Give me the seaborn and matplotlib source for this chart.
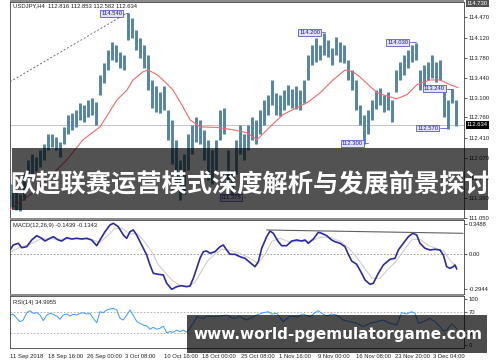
import numpy as np
import matplotlib
matplotlib.use("Agg")
import matplotlib.pyplot as plt
import seaborn as sns
from matplotlib.patches import Rectangle
import matplotlib.transforms as mtrans

sns.set_style("white")
plt.rcParams['font.family'] = ['Liberation Sans', 'DejaVu Sans']

# ---------------- data ----------------
bar_high = [111.62, 111.53, 111.45, 111.79, 112.04, 112.13, 112.08, 112.21, 112.30, 112.47,
            112.47, 112.42, 112.34, 112.59, 112.81, 112.84, 112.89, 113.01, 112.98, 113.06,
            113.10, 113.03, 113.49, 113.69, 113.91, 114.05, 114.00, 113.88, 113.83, 114.54,
            114.46, 114.25, 114.12, 114.00, 113.83, 113.40, 113.29, 113.20, 113.29, 112.89,
            112.72, 112.38, 112.04, 112.13, 112.47, 112.64, 112.77, 112.72, 112.55, 112.38,
            112.21, 112.38, 112.89, 112.93, 112.21, 111.87, 112.38, 112.64, 112.47, 112.64,
            112.76, 112.72, 112.89, 113.06, 113.15, 113.40, 113.18, 113.15, 113.23, 113.32,
            113.25, 113.30, 113.23, 113.40, 113.83, 114.00, 114.12, 114.00, 114.20, 114.08,
            113.94, 114.13, 114.05, 114.00, 113.74, 113.57, 113.40, 112.98, 112.81, 112.89,
            113.06, 113.23, 113.27, 113.15, 113.20, 113.06, 113.57, 113.71, 113.83, 113.91,
            114.00, 114.03, 113.57, 113.66, 113.71, 113.83, 113.71, 113.74, 113.32, 113.06,
            113.25, 113.06]
bar_low = [111.24, 111.19, 111.16, 111.36, 111.70, 111.79, 111.84, 111.92, 112.04, 112.21,
           112.25, 112.21, 112.08, 112.30, 112.47, 112.55, 112.59, 112.72, 112.69, 112.76,
           112.81, 112.64, 113.15, 113.35, 113.57, 113.74, 113.71, 113.61, 113.57, 114.08,
           114.12, 113.91, 113.78, 113.61, 113.23, 112.93, 112.86, 112.84, 112.89, 112.38,
           111.96, 111.62, 111.36, 111.45, 111.87, 112.13, 112.34, 112.30, 112.04, 111.70,
           111.62, 111.87, 112.38, 112.47, 111.45, 111.40, 111.79, 112.13, 112.04, 112.21,
           112.38, 112.30, 112.47, 112.64, 112.81, 112.98, 112.81, 112.78, 112.89, 112.98,
           112.93, 112.91, 112.89, 113.01, 113.40, 113.66, 113.71, 113.74, 113.83, 113.80,
           113.66, 113.83, 113.71, 113.69, 113.40, 113.23, 112.89, 112.64, 112.30, 112.47,
           112.72, 112.91, 112.98, 112.86, 112.89, 112.69, 113.20, 113.40, 113.49, 113.61,
           113.71, 113.74, 113.23, 113.32, 113.40, 113.44, 113.37, 113.40, 112.76, 112.57,
           113.01, 112.62]
bar_idx = np.arange(len(bar_high))

ma_x = [-0.5, 5.25, 9.5, 13.75, 17.75, 22, 26.25, 28.75, 30.25, 32.75, 34, 36.25, 37.75,
        40.25, 42.75, 44.5, 47, 51.25, 55.25, 58.75, 61.25, 64.5, 67.75, 73.75, 77, 80.25,
        83.25, 85.25, 87, 91.25, 94.5, 96.25, 98.75, 101.25, 104.5, 107, 109.5, 111.5]
ma_v = [111.19, 111.48, 111.75, 112.04, 112.38, 112.60, 113.06, 113.23, 113.40, 113.54,
        113.57, 113.49, 113.40, 113.23, 112.94, 112.72, 112.60, 112.59, 112.55, 112.50,
        112.38, 112.60, 112.81, 113.01, 113.18, 113.40, 113.57, 113.54, 113.45, 113.18,
        113.11, 113.08, 113.15, 113.32, 113.40, 113.40, 113.32, 113.27]

macd_x = [-0.5, 0.33, 1.58, 2.42, 3.67, 4.92, 6.17, 7.42, 8.25, 9.5,
          10.33, 11.58, 12.42, 13.67, 14.92, 16.17, 17.42, 18.67, 19.92, 21.17,
          22, 23.25, 24.5, 25.33, 26.58, 27.83, 28.67, 29.5, 30.33, 31.17,
          32, 32.83, 33.67, 34.5, 35.33, 36.58, 37.83, 38.67, 39.92, 41.17,
          42.42, 43.67, 44.5, 45.33, 46.17, 47, 47.83, 48.67, 49.5, 50.75,
          52, 52.83, 53.67, 54.5, 55.75, 57, 58.25, 59.5, 60.75, 61.58,
          62.42, 63.67, 64.5, 65.33, 66.58, 67.42, 68.67, 69.92, 71.17, 72.42,
          73.25, 74.08, 75.33, 76.58, 77.42, 78.67, 79.92, 80.75, 82, 83.25,
          84.08, 84.92, 86.17, 87.42, 88.25, 89.5, 90.33, 91.58, 92.83, 94.5,
          95.75, 96.58, 97.83, 99.08, 100.17, 101.17, 102, 103.25, 104.5, 105.75,
          107, 107.83, 108.67, 109.5, 110.33, 110.75, 111.17]
macd_v = [0.043, 0.093, 0.110, 0.066, 0.076, 0.143, 0.186, 0.160, 0.133, 0.160,
          0.176, 0.143, 0.133, 0.166, 0.153, 0.160, 0.153, 0.160, 0.143, 0.086,
          0.143, 0.226, 0.293, 0.310, 0.276, 0.193, 0.160, 0.226, 0.243, 0.193,
          0.126, 0.060, -0.007, -0.107, -0.190, -0.200, -0.207, -0.290, -0.350, -0.324,
          -0.314, -0.324, -0.317, -0.240, -0.140, -0.040, 0.026, 0.033, 0.010, 0.026,
          0.076, 0.093, 0.043, 0.0, 0.0, -0.024, -0.040, -0.082, -0.124, -0.074,
          0.060, 0.176, 0.233, 0.210, 0.126, 0.086, 0.086, 0.133, 0.143, 0.133,
          0.143, 0.110, 0.153, 0.220, 0.210, 0.186, 0.143, 0.126, 0.110, 0.076,
          0.0, -0.067, -0.100, -0.190, -0.257, -0.300, -0.290, -0.190, -0.107, -0.050,
          -0.040, 0.043, 0.110, 0.176, 0.210, 0.193, 0.110, 0.060, 0.043, 0.050,
          0.043, -0.007, -0.124, -0.140, -0.124, -0.107, -0.147]

signal_x = [-0.5, 2, 4.5, 7, 9.5, 12, 14.5, 17, 19.5, 22, 23.75, 25.75, 27.5, 29.5, 31.25,
            33.25, 35, 36.5, 38.25, 40, 42, 44, 45.75, 47.5, 49, 50.75, 52.5, 54.5, 57, 59.5,
            61.5, 63.25, 65, 67, 69.5, 72, 74.5, 77, 79.5, 82, 84, 86, 88, 90, 92, 94, 96,
            98, 100, 102, 104, 106, 108, 109.5, 111.25]
signal_v = [0.02, 0.07, 0.10, 0.15, 0.155, 0.15, 0.155, 0.155, 0.15, 0.12, 0.18, 0.26, 0.26,
            0.20, 0.21, 0.12, 0.02, -0.10, -0.18, -0.26, -0.31, -0.32, -0.28, -0.16, -0.06,
            0.0, 0.05, 0.04, 0.01, -0.04, -0.09, 0.0, 0.13, 0.16, 0.12, 0.13, 0.13, 0.17,
            0.17, 0.13, 0.07, -0.02, -0.13, -0.24, -0.24, -0.15, -0.07, 0.04, 0.15, 0.15,
            0.09, 0.06, 0.03, -0.06, -0.13]

rsi_x = [-0.5, 0.3, 1.2, 2.0, 2.8, 3.7, 4.5, 5.3, 6.2, 7.0,
         7.8, 8.7, 9.5, 10.3, 11.2, 12.0, 12.8, 13.7, 14.5, 15.3,
         16.2, 17.0, 17.8, 18.7, 19.5, 20.3, 21.2, 22.0, 22.8, 23.7,
         24.5, 25.3, 26.2, 27.0, 27.8, 28.7, 29.5, 30.3, 31.2, 32.0,
         32.8, 33.7, 34.5, 35.3, 36.2, 37.0, 37.8, 38.7, 39.5, 40.3,
         41.2, 42.0, 42.8, 43.7, 44.5, 45.4, 46.2, 47.8, 48.7, 50.3,
         52.0, 53.7, 55.3, 57.0, 58.7, 59.5, 61.2, 62.8, 64.1, 64.9,
         66.2, 67.8, 69.5, 71.2, 72.8, 74.5, 75.75, 76.6, 77.4, 78.7,
         79.9, 81.2, 82.8, 84.5, 86.2, 87.8, 89.5, 91.2, 92.8, 94.5,
         96.2, 97.4, 98.7, 99.9, 100.75, 101.6, 102.8, 104.5, 105.75, 107.0,
         107.8, 108.7, 109.9, 110.75, 111.2]
rsi_v = [63.9, 65.7, 57.7, 51.5, 54.6, 68.2, 71.9, 67.0, 68.2, 63.9,
         53.4, 63.9, 67.0, 65.1, 62.0, 55.9, 63.9, 65.7, 62.0, 65.1,
         63.9, 67.0, 68.2, 65.7, 67.0, 57.7, 49.6, 70.0, 68.2, 73.1,
         75.0, 76.3, 73.1, 57.7, 54.6, 63.9, 73.1, 63.9, 51.5, 48.5,
         45.4, 43.5, 37.4, 41.1, 37.4, 39.3, 43.5, 31.1, 33.0, 31.9,
         36.1, 33.0, 36.1, 31.9, 40.0, 50.0, 60.7, 57.7, 62.0, 60.7,
         62.0, 63.9, 57.7, 60.7, 54.6, 57.7, 63.9, 68.2, 70.0, 65.7,
         67.0, 51.5, 62.0, 60.7, 65.7, 60.7, 68.2, 71.9, 67.0, 62.0,
         65.7, 63.9, 54.6, 51.5, 48.5, 42.2, 48.5, 51.5, 54.6, 48.5,
         45.4, 68.2, 65.7, 70.0, 67.0, 48.5, 51.5, 57.7, 51.5, 42.2,
         34.8, 36.1, 47.2, 42.2, 37.4]

price_ticks = [114.47, 114.12, 113.78, 113.44, 113.10, 112.76, 112.41, 112.07, 111.73, 111.39, 111.05]
date_labels = ["11 Sep 2018", "18 Sep 16:00", "26 Sep 00:00", "3 Oct 08:00", "10 Oct 16:00",
               "18 Oct 00:00", "25 Oct 08:00", "1 Nov 16:00", "9 Nov 00:00", "16 Nov 08:00",
               "23 Nov 20:00", "3 Dec 04:00"]
date_pos = [-0.5, 9.12, 18.74, 28.36, 37.98, 47.6, 57.22, 66.84, 76.46, 86.08, 95.7, 105.32]
extreme_labels = ["114.540", "114.200", "114.030", "113.240", "112.570", "112.300", "111.375"]
title_cn = "欧超联赛运营模式深度解析与发展前景探讨"
watermark = "www.world-pgemulatorgame.com"

# ---------------- layout ----------------
W, H = 500, 362
fig = plt.figure(figsize=(W / 100, H / 100), dpi=100)
fig.patch.set_facecolor("white")

def box(px0, py0, px1, py1):
    return [px0 / W, 1 - py1 / H, (px1 - px0) / W, (py1 - py0) / H]

ax = fig.add_axes(box(10, 2, 464, 218))
axm = fig.add_axes(box(10, 220, 464, 294))
axr = fig.add_axes(box(10, 296, 464, 348))

FS = 4.2
TXT = "#202020"
for a in (ax, axm, axr):
    a.set_facecolor("white")
    a.set_xlim(-0.5, 113)
    for s in a.spines.values():
        s.set_color("#404040")
        s.set_linewidth(0.6)
    a.yaxis.tick_right()
    a.tick_params(axis="y", direction="out", length=2, width=0.5, pad=1.5,
                  labelsize=FS, colors=TXT)
    a.grid(False)

# main price panel
ax.vlines(bar_idx, bar_low, bar_high, color="#5484a3", lw=2.1, zorder=2)
sns.lineplot(x=ma_x, y=ma_v, ax=ax, color="#f26a6a", lw=0.8, zorder=3)
ax.axhline(112.634, color="#c4c4c4", lw=0.7, zorder=1)
ax.plot([-0.5, 28.75], [113.37, 114.54], ls=(0, (2, 2)), color="#707070", lw=0.7, zorder=3)
ax.set_ylim(111.045, 114.73)
ax.set_yticks(price_ticks)
ax.set_yticklabels([f"{v:.3f}" for v in price_ticks])
ax.set_xticks([])
ax.text(0.006, 0.992, "USDJPY,H4  112.816 112.853 112.582 112.634", transform=ax.transAxes,
        fontsize=FS, color=TXT, va="top", ha="left")

# extreme price labels (box centre in bar index / price, line end in bar index)
lab_pos = [(24.9, 114.535, 28.4, 29.0), (74.4, 114.21, 77.6, 78.2), (96.4, 114.04, 99.6, 101.0),
           (105.6, 113.25, 108.8, 110.3), (103.9, 112.58, 107.1, 108.8), (85.1, 112.32, 88.3, 89.0),
           (54.75, 111.40, 57.9, 58.2)]
for lab, (xc, yc, x0, x1) in zip(extreme_labels, lab_pos):
    ax.text(xc, yc, lab, fontsize=FS, color="#202080", ha="center", va="center", zorder=4,
            bbox=dict(boxstyle="square,pad=0.15", fc="#e2e2f8", ec="#5a5ac0", lw=0.6))
    ax.plot([x0, x1], [yc, yc], color="#5a5ac0", lw=0.6, zorder=4)

blend = mtrans.blended_transform_factory(ax.transAxes, ax.transData)
ax.text(1.006, 112.634, "112.634", transform=blend, fontsize=FS, color="white", ha="left",
        va="center", zorder=6, bbox=dict(boxstyle="square,pad=0.2", fc="black", ec="none"))
ax.text(1.006, 114.70, "114.730", transform=blend, fontsize=FS, color="white", ha="left",
        va="center", zorder=6, bbox=dict(boxstyle="square,pad=0.2", fc="#505050", ec="none"))

# MACD panel
axm.axhline(0, ls=(0, (2, 2)), color="#909090", lw=0.6)
sns.lineplot(x=signal_x, y=signal_v, ax=axm, color="#cfcfcf", lw=0.8)
sns.lineplot(x=macd_x, y=macd_v, ax=axm, color="#2a2aa6", lw=1.2)
axm.plot([63.67, 112.75], [0.243, 0.210], color="#606060", lw=0.8)
axm.set_ylim(-0.397, 0.343)
axm.set_yticks([0.303, 0.0, -0.347])
axm.set_yticklabels(["0.3488", "0.00", "-0.2944"])
axm.set_xticks([])
axm.text(0.006, 0.96, "MACD(12,26,9) -0.1439 -0.1343", transform=axm.transAxes,
         fontsize=FS, color=TXT, va="top", ha="left")

# RSI panel
for lv in (70, 30):
    axr.axhline(lv, ls=(0, (2, 2)), color="#a8a8a8", lw=0.6)
sns.lineplot(x=rsi_x, y=rsi_v, ax=axr, color="#3d9bff", lw=0.7)
axr.set_ylim(2.8, 99.1)
axr.set_yticks([93.5, 70, 30, 8.3])
axr.set_yticklabels(["100", "70", "30", "0"])
axr.set_xticks(date_pos)
axr.set_xticklabels(date_labels, ha="left")
axr.tick_params(axis="x", direction="out", length=3, width=0.5, pad=1.5, labelsize=FS, colors=TXT)
axr.text(0.006, 0.93, "RSI(14) 34.9955", transform=axr.transAxes,
         fontsize=FS, color=TXT, va="top", ha="left")
for a in (ax, axm, axr):
    a.set_xlabel("")
    a.set_ylabel("")

# panel separators
for (y0, y1) in ((0, 2), (218, 220), (294, 296)):
    fig.add_artist(Rectangle((10 / W, 1 - y1 / H), 454 / W, (y1 - y0) / H,
                             transform=fig.transFigure, fc="#8c8c8c", ec="none", zorder=3))

# overlay banner
fig.add_artist(Rectangle((12 / W, 1 - 210 / H), 476 / W, 62 / H, transform=fig.transFigure,
                         fc="black", ec="none", alpha=0.68, zorder=5))
fig.text(250 / W, 1 - 185 / H, title_cn, fontsize=18.2, color="white", weight="bold",
         family=["Noto Sans CJK SC", "DejaVu Sans"], ha="center", va="center", zorder=6)

# watermark
fig.add_artist(Rectangle((187 / W, 1 - 353 / H), 300 / W, 38 / H, transform=fig.transFigure,
                         fc="black", ec="none", alpha=0.7, zorder=5))
fig.text(338 / W, 1 - 335 / H, watermark, fontsize=11.0, color="white", weight="bold",
         family=["DejaVu Sans"], ha="center", va="center", zorder=6)

fig.savefig("out.png", dpi=100)
